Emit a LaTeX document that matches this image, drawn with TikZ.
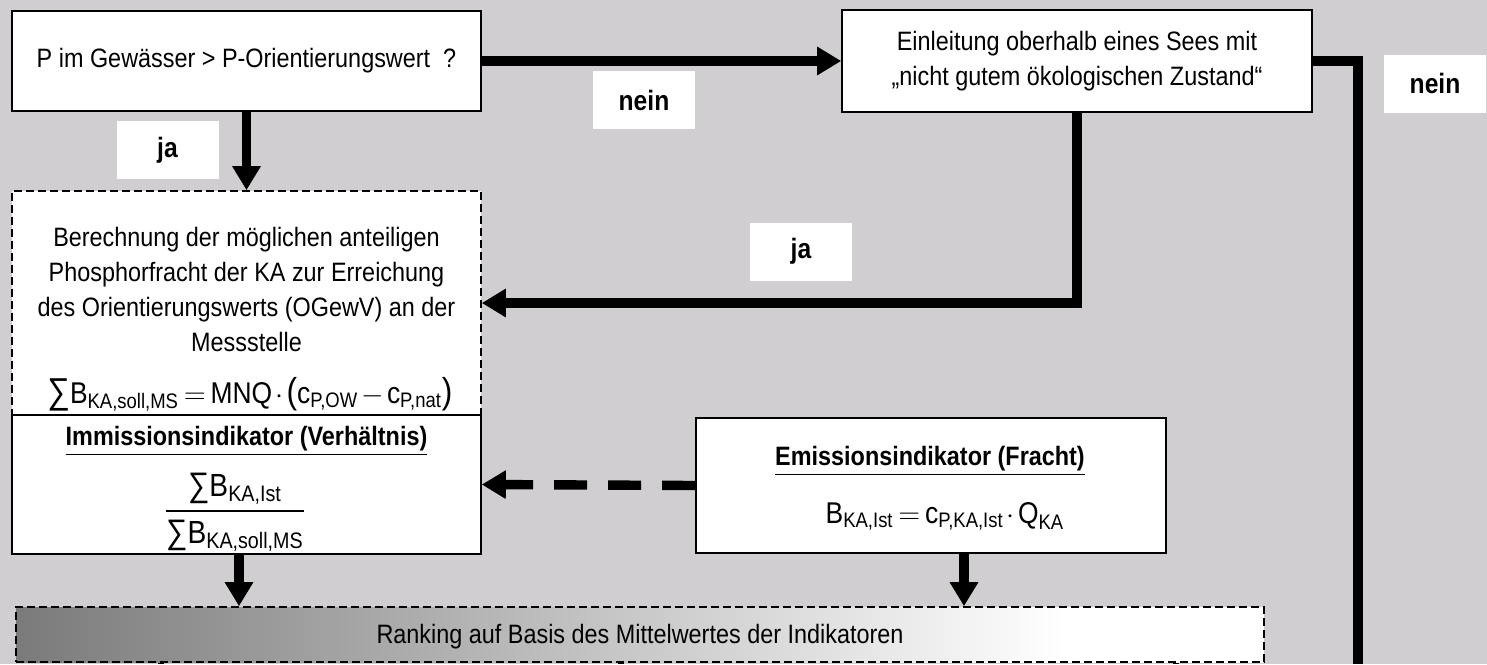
\documentclass[tikz,border=0pt]{standalone}
\usepackage{amsmath}
\usepackage{fontspec}
\setmainfont{Liberation Sans}[FakeStretch=0.88]
\usetikzlibrary{arrows.meta,calc}

\definecolor{bggray}{RGB}{208,206,208}
\pgfdeclarehorizontalshading{rankshade}{100bp}{color(0bp)=(black!52); color(25bp)=(black!52); color(67bp)=(white); color(100bp)=(white)}
\newcommand\tightmath{\thickmuskip=3mu\relax\medmuskip=2mu\relax}
\newcommand\bigsum[1]{\text{\fontsize{#1}{#1}\selectfont ∑}}
\newcommand\bigpar[2]{\text{\fontsize{#1}{#1}\selectfont #2}}

\tikzset{
  box/.style={draw, line width=0.8pt, fill=white, inner sep=0pt, align=center, font=\fontsize{13.3}{17.5}\selectfont},
  dbox/.style={box, dash pattern=on 4pt off 2pt},
  txt/.style={inner sep=0pt, align=center, font=\fontsize{13.3}{17.5}\selectfont},
  ttl/.style={inner sep=0pt, font=\fontsize{13.3}{17.5}\selectfont\bfseries},
  form/.style={inner sep=0pt, font=\fontsize{15}{18}\selectfont},
  lab/.style={fill=white, inner sep=0pt, minimum width=51pt, minimum height=29pt, font=\fontsize{14}{16}\selectfont\bfseries},
  flow/.style={line width=4.7pt, -{Triangle[length=12pt,width=13.5pt]}},
}

\begin{document}
\begin{tikzpicture}[x=0.5pt,y=-0.5pt]
\useasboundingbox (0,0) rectangle (1487,664);
\fill[bggray] (0,0) rectangle (1487,664);

% question boxes
\node[box, minimum width=234.5pt, minimum height=50pt] (qP) at (246.5,61)
  {P im Gewässer > P-Orientierungswert\ \ ?};
\node[box, minimum width=235pt, minimum height=51pt] (qSee) at (1077,61)
  {Einleitung oberhalb eines Sees mit\\„nicht gutem ökologischen Zustand“};

% calculation of the target load
\node[dbox, minimum width=234.5pt, minimum height=112pt] (calc) at (246.5,303) {};
\node[txt] (calctxt) at (246.5,289)
  {Berechnung der möglichen anteiligen\\Phosphorfracht der KA zur Erreichung\\des Orientierungswerts (OGewV) an der\\Messstelle};
\node[form, anchor=base] (calcform) at (250,403)
  {$\tightmath\bigsum{18}\text{B}_{\text{KA,soll,MS}} = \text{MNQ}\cdot\bigpar{18}{(}\text{c}_{\text{P,OW}} - \text{c}_{\text{P,nat}}\bigpar{18}{)}$};

% indicators
\node[box, minimum width=234.5pt, minimum height=69.5pt] (immi) at (246.5,484.5) {};
\node[ttl, anchor=base] (immititle) at (246.5,445) {\underline{Immissionsindikator (Verhältnis)}};
\node[form, font=\fontsize{16}{18}\selectfont] (immifrac) at (235,512)
  {$\dfrac{\bigsum{17}\text{B}_{\text{KA,Ist}}}{\bigsum{17}\text{B}_{\text{KA,soll,MS}}}$};

\node[box, minimum width=235pt, minimum height=67.5pt] (emis) at (931,485.5) {};
\node[ttl, anchor=base] (emistitle) at (930,465) {\underline{Emissionsindikator (Fracht)}};
\node[form, anchor=base] (emisform) at (945,523)
  {$\tightmath\text{B}_{\text{KA,Ist}} = \text{c}_{\text{P,KA,Ist}}\cdot\text{Q}_{\text{KA}}$};

% ranking
\node[draw, line width=0.8pt, dash pattern=on 4pt off 2pt, shading=rankshade,
  minimum width=624pt, minimum height=27.5pt, inner sep=0pt] (rank) at (640,634.5) {};
\node[txt] (ranktxt) at (640,637) {Ranking auf Basis des Mittelwertes der Indikatoren};

% answers
\node[lab] (ja1) at (167.5,150) {ja};
\node[lab] (nein1) at (644,100) {nein};
\node[lab] (ja2) at (801,251.5) {ja};
\node[lab] (nein2) at (1435,83.5) {nein};

% connectors
\coordinate (out) at (1358,664);
\coordinate (immiout) at ([xshift=-3.75pt]immi.south);
\coordinate (emisout) at ([xshift=16.5pt]emis.south);
\draw[flow] (qP.east) -- (qSee.west);
\draw[flow] (qP.south) -- (calc.north);
\draw[flow] (qSee.south) |- (calc.east);
\draw[line width=4.7pt] (qSee.east) -| (out);
\draw[flow, dash pattern=on 16.5pt off 10.5pt] (emis.west) -- (immi.east);
\draw[flow] (immiout) -- (immiout |- rank.north);
\draw[flow] (emisout) -- (emisout |- rank.north);
\foreach \x in {161,621,1176}{
  \coordinate (s\x) at (\x,664);
  \draw[line width=3pt] (rank.south -| s\x) -- (s\x);
}
\end{tikzpicture}
\end{document}
